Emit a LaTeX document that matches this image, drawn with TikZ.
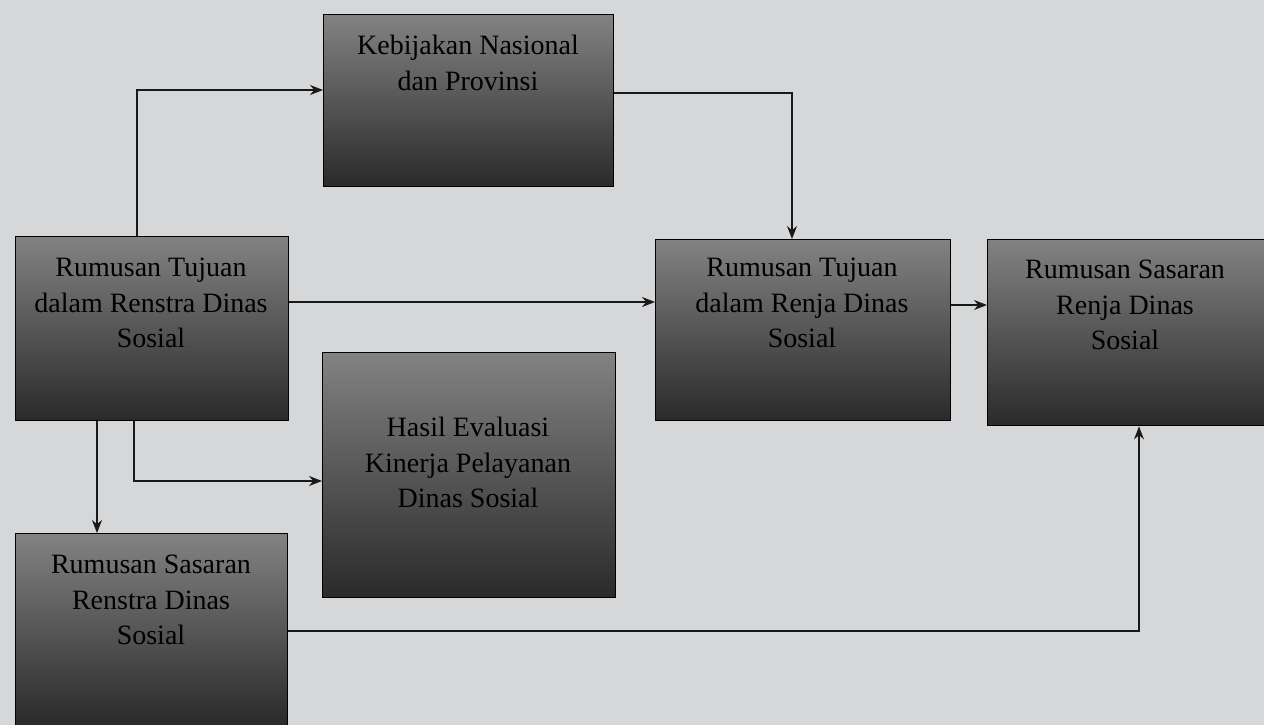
\documentclass[tikz,border=0pt]{standalone}
\usepackage{fontspec}
\setmainfont{Liberation Serif}
\usetikzlibrary{arrows.meta}
\definecolor{bg}{RGB}{214,215,216}
\definecolor{boxtop}{RGB}{130,130,130}
\definecolor{boxmid}{RGB}{84,84,84}
\definecolor{boxbot}{RGB}{42,42,42}
\begin{document}
\begin{tikzpicture}[x=1pt,y=-1pt,
  box/.style={draw=black, line width=1.4pt, top color=boxtop, middle color=boxmid, bottom color=boxbot, inner sep=0pt, anchor=north west},
  lbl/.style={align=center, font=\fontsize{28}{35.5}\selectfont, text=black, anchor=north, inner sep=0pt},
  conn/.style={draw=black!90, line width=1.3pt, -{Stealth[length=13pt,width=10pt]}}]
\fill[bg] (0,0) rectangle (1264,725);
\useasboundingbox (0,0) rectangle (1264,725);
% boxes
\node[box, minimum width=290pt, minimum height=172pt] (keb) at (323,14) {};
\node[box, minimum width=273pt, minimum height=184pt] (a) at (15,236) {};
\node[box, minimum width=293pt, minimum height=245pt] (hasil) at (322,352) {};
\node[box, minimum width=295pt, minimum height=181pt] (renja) at (655,239) {};
\node[box, minimum width=277pt, minimum height=186pt] (srj) at (987,239) {};
\node[box, minimum width=272pt, minimum height=192pt] (srs) at (15,533) {};
% labels
\node[lbl] (kebt) at (468,35) {Kebijakan Nasional\\dan Provinsi};
\node[lbl] (at) at (151,258) {Rumusan Tujuan\\dalam Renstra Dinas\\Sosial};
\node[lbl] (hasilt) at (468,417) {Hasil Evaluasi\\Kinerja Pelayanan\\Dinas Sosial};
\node[lbl] (renjat) at (802,258) {Rumusan Tujuan\\dalam Renja Dinas\\Sosial};
\node[lbl] (srjt) at (1125,260) {Rumusan Sasaran\\Renja Dinas\\Sosial};
\node[lbl] (srst) at (151,555) {Rumusan Sasaran\\Renstra Dinas\\Sosial};
% connectors
\draw[conn] ([xshift=122pt]a.north west) |- ([yshift=-76pt]keb.north west);
\draw[conn] ([yshift=-79pt]keb.north east) -| ([xshift=137pt]renja.north west);
\coordinate (p1) at ([yshift=-66pt]a.north east);
\draw[conn] (p1) -- (p1 -| renja.west);
\coordinate (p2) at ([yshift=-66pt]renja.north east);
\draw[conn] (p2) -- (p2 -| srj.west);
\coordinate (p3) at ([xshift=82pt]a.south west);
\draw[conn] (p3) -- (p3 |- srs.north);
\draw[conn] ([xshift=119pt]a.south west) |- ([yshift=-129pt]hasil.north west);
\draw[conn] ([yshift=-98pt]srs.north east) -| ([xshift=152pt]srj.south west);
\end{tikzpicture}
\end{document}
